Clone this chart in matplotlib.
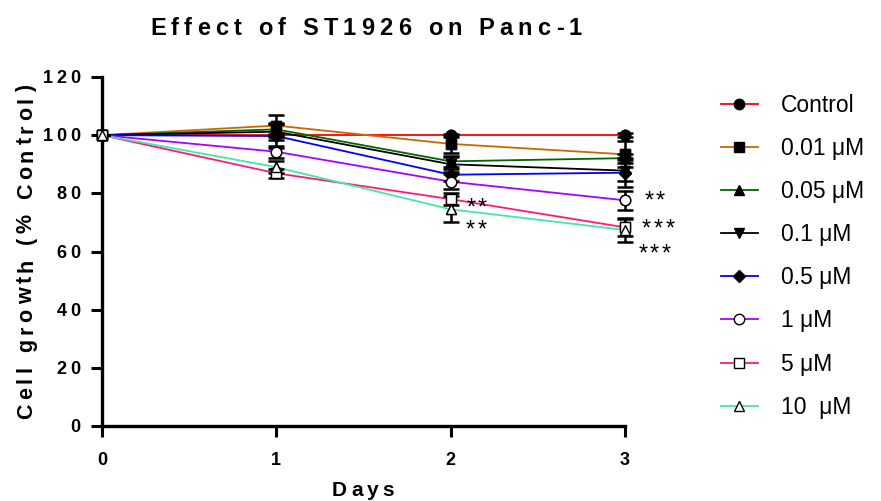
import matplotlib
matplotlib.use('Agg')
import matplotlib.pyplot as plt
import numpy as np
from matplotlib.font_manager import FontProperties
from matplotlib.transforms import offset_copy, IdentityTransform

# datos
days = [0, 1, 2, 3]
labels = ['Control', '0.01 μM', '0.05 μM', '0.1 μM', '0.5 μM', '1 μM', '5 μM', '10  μM']
control = [100, 100, 100, 100]
c001 = [100, 103.3, 97, 93.4]
c005 = [100, 102, 91, 92.1]
c01 = [100, 101.2, 90, 87.8]
c05 = [100, 99.7, 86.4, 87.1]
c1 = [100, 94.3, 84, 77.6]
c5 = [100, 86.9, 78, 68.3]
c10 = [100, 89, 74.5, 67.4]

err_control = [0, 0.5, 0.5, 0.8]
err_001 = [0, 3.5, 3, 4.5]
err_005 = [0, 2, 2, 1.5]
err_01 = [0, 3, 2.5, 3.5]
err_05 = [0, 4, 2, 5]
err_1 = [0, 2, 2.5, 3.3]
err_5 = [0, 1.5, 2, 3]
err_10 = [0, 2, 4.5, 4]

series = [control, c001, c005, c01, c05, c1, c5, c10]
errores = [err_control, err_001, err_005, err_01, err_05, err_1, err_5, err_10]
colores = ['#FF0000', '#CC6600', '#006600', '#000000', '#0000FF', '#AA00FF', '#FF1A75', '#44E8A4']
marcadores = ['o', 's', '^', 'v', 'D', 'o', 's', '^']
rellenos = ['black'] * 5 + ['white'] * 3
tamanos = [7.5, 7.5, 7.5, 7.5, 6, 7.5, 7.5, 7.5]

yticks = [0, 20, 40, 60, 80, 100, 120]

# asteriscos de significancia
sig_x = [2.15, 2.145, 3.17, 3.19, 3.17]
sig_y = [75.6, 68.1, 78.1, 68.4, 59.8]
sig_txt = ['**', '**', '**', '***', '***']

plt.rcParams['font.family'] = ['Liberation Sans', 'DejaVu Sans']

fig = plt.figure(figsize=(8.81, 5.01), dpi=100)
ax = fig.add_axes([102 / 881, 1 - 426 / 501, (625 - 102) / 881, (426 - 77) / 501])
pix = IdentityTransform()


def texto_espaciado(x, y, s, transform, size, spacing, weight='bold', rotation=0, ha='center'):
    # matplotlib no tiene letter-spacing: se coloca letra por letra
    renderer = fig.canvas.get_renderer()
    prop = FontProperties(family='Liberation Sans', size=size, weight=weight)
    anchos = []
    for c in s:
        if c == ' ':
            anchos.append(0.278 * size)
        else:
            w, h, d = renderer.get_text_width_height_descent(c, prop, ismath=False)
            anchos.append(w * 72 / fig.dpi)
    total = sum(anchos) + spacing * (len(s) - 1)
    pos = -total if ha == 'right' else -total / 2
    ang = np.deg2rad(rotation)
    for c, w in zip(s, anchos):
        cx = pos + w / 2
        tr = offset_copy(transform, fig=fig, x=cx * np.cos(ang), y=cx * np.sin(ang), units='points')
        if c != ' ':
            fig.text(x, y, c, transform=tr, ha='center', va='baseline', rotation=rotation,
                     rotation_mode='anchor', fontproperties=prop, clip_on=False)
        pos += w + spacing


for vals, err, col, mk, mf, ms, lab in zip(series, errores, colores, marcadores, rellenos, tamanos, labels):
    ax.plot(days, vals, color=col, lw=1.3, zorder=2, label=lab, clip_on=False,
            marker=mk, markerfacecolor=mf, markeredgecolor='black', markersize=ms, markeredgewidth=1)
    eb = ax.errorbar(days, vals, yerr=err, fmt='none', ecolor='black', elinewidth=1.8,
                     capsize=6, capthick=1.8, zorder=3)
    for art in eb.lines[1] + eb.lines[2]:
        art.set_clip_on(False)
    ax.plot(days, vals, linestyle='none', marker=mk, markerfacecolor=mf, clip_on=False,
            markeredgecolor='black', markersize=ms, markeredgewidth=1, zorder=4)

for sx, sy, st in zip(sig_x, sig_y, sig_txt):
    texto_espaciado(sx, sy - 3.0, st, ax.transData, 17, 1.8, weight='normal')

ax.set_xlim(0, 3)
ax.set_ylim(0, 120)
ax.set_xticks(days)
ax.set_yticks(yticks)
for s in ['top', 'right']:
    ax.spines[s].set_visible(False)
for s in ['left', 'bottom']:
    ax.spines[s].set_linewidth(2.4)
ax.tick_params(axis='both', direction='out', length=8, width=2.2,
               labelleft=False, labelbottom=False)

# etiquetas de ticks con espaciado entre letras
base_y = offset_copy(ax.get_yaxis_transform(), fig=fig, x=-22, y=-6, units='dots')
for v in yticks:
    texto_espaciado(0, v, str(v), base_y, 13, 2.6, ha='right')
base_x = offset_copy(ax.get_xaxis_transform(), fig=fig, x=0, y=-39, units='dots')
for d in days:
    texto_espaciado(d, 0, str(d), base_x, 13, 2.6)

leg = ax.legend(loc='upper left', bbox_to_anchor=(1.155, 0.995), frameon=False, fontsize=16.5,
                handlelength=1.6, handletextpad=1.0, labelspacing=0.88, numpoints=1,
                borderaxespad=0.25)

# titulo y etiquetas de ejes (coordenadas en pixeles)
texto_espaciado(366, 501 - 35, 'Effect of ST1926 on Panc-1', pix, 17, 3.7)
texto_espaciado(363, 501 - 496, 'Days', pix, 15, 3.0)
texto_espaciado(32, 501 - 252, 'Cell growth (% Control)', pix, 15.5, 3.1, rotation=90)

plt.savefig('out.png', dpi=100)
